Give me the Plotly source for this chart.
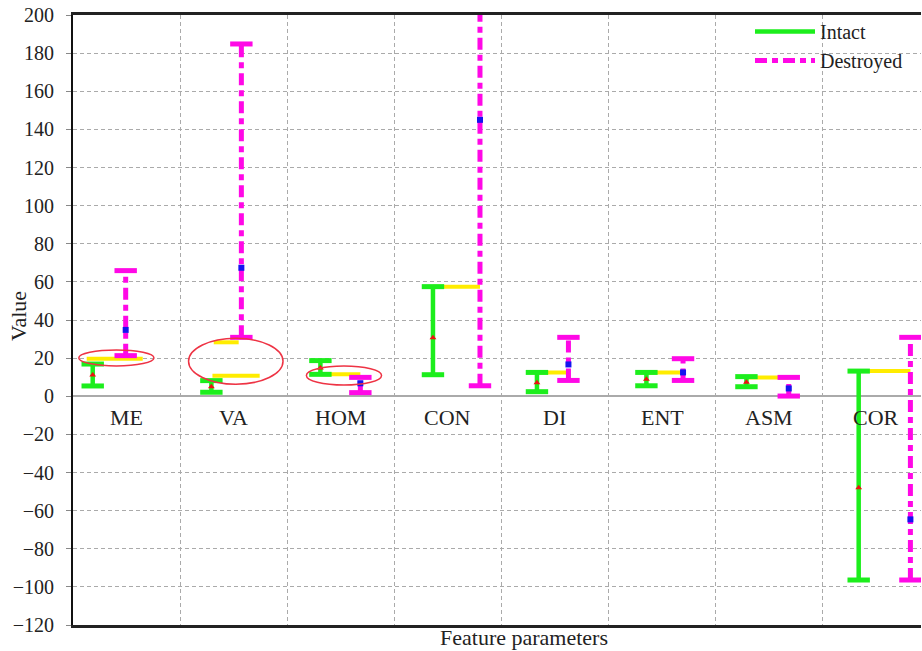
import plotly.graph_objects as go

# Texture feature parameters: ranges (min / max) and means for intact and destroyed samples
categories = ["ME", "VA", "HOM", "CON", "DI", "ENT", "ASM", "COR"]
intact_min = [5.4, 2.1, 11.5, 11.3, 2.4, 5.5, 5.0, -96.4]
intact_max = [16.9, 8.2, 18.7, 57.5, 12.5, 12.5, 10.3, 13.2]
intact_mean = [11.2, 5.0, 14.8, 30.7, 7.1, 8.9, 7.3, -48.0]
destroyed_min = [21.3, 30.9, 1.9, 5.5, 8.3, 8.3, 0.1, -96.4]
destroyed_max = [65.9, 184.8, 9.9, 290.0, 30.9, 19.7, 9.9, 30.9]
destroyed_mean = [34.8, 67.4, 6.8, 145.0, 16.7, 12.5, 4.1, -64.6]
link_value = [19.7, 10.8, 11.5, 57.5, 12.5, 12.5, 9.9, 13.2]
extra_link = {"VA": 28.3}
y_ticks = list(range(-120, 201, 20))

# horizontal placement of the two bars inside each category slot
intact_off = [-0.316, -0.208, -0.190, -0.139, -0.168, -0.146, -0.212, -0.164]
destroyed_off = [-0.008, 0.072, 0.183, 0.300, 0.126, 0.196, 0.183, 0.319]
link_span = {"ME": (-0.372, 0.151), "VA": (-0.198, 0.243)}
extra_span = {"VA": (-0.186, 0.047)}
# highlighted groups: (category, x centre, x half-width, y centre, y half-height)
ellipses = [("ME", -0.095, 0.351, 20.1, 4.2),
            ("VA", 1.020, 0.441, 18.35, 12.05),
            ("HOM", 2.030, 0.351, 10.9, 5.0)]

GREEN = "#1cee1c"
MAGENTA = "#ff08e6"
YELLOW = "#ffec00"
FONT = "Liberation Serif"


def segments(xs, lo, hi):
    x, y = [], []
    for xi, a, b in zip(xs, lo, hi):
        x += [xi, xi, None]
        y += [a, b, None]
    return x, y


xi = [i + o for i, o in enumerate(intact_off)]
xd = [i + o for i, o in enumerate(destroyed_off)]

fig = go.Figure()

# yellow links between the two groups
lx, ly = [], []
for i, c in enumerate(categories):
    a, b = link_span.get(c, (intact_off[i], destroyed_off[i]))
    lx += [i + a, i + b, None]
    ly += [link_value[i], link_value[i], None]
    if c in extra_link:
        a, b = extra_span[c]
        lx += [i + a, i + b, None]
        ly += [extra_link[c], extra_link[c], None]
fig.add_trace(go.Scatter(x=lx, y=ly, mode="lines", line=dict(color=YELLOW, width=4),
                         showlegend=False, hoverinfo="skip"))

# intact ranges
sx, sy = segments(xi, intact_min, intact_max)
fig.add_trace(go.Scatter(x=sx, y=sy, mode="lines", name="Intact",
                         line=dict(color=GREEN, width=4.5)))
fig.add_trace(go.Scatter(x=xi + xi, y=intact_min + intact_max, mode="markers",
                         marker=dict(symbol="line-ew", size=16,
                                     line=dict(color=GREEN, width=5)),
                         showlegend=False))
fig.add_trace(go.Scatter(x=xi, y=intact_mean, mode="markers",
                         marker=dict(symbol="triangle-up", size=6, color="#ee1111"),
                         showlegend=False))

# destroyed ranges
sx, sy = segments(xd, destroyed_min, destroyed_max)
fig.add_trace(go.Scatter(x=sx, y=sy, mode="lines", name="Destroyed",
                         line=dict(color=MAGENTA, width=5, dash="12px,5px,6px,5px")))
fig.add_trace(go.Scatter(x=xd + xd, y=destroyed_min + destroyed_max, mode="markers",
                         marker=dict(symbol="line-ew", size=16,
                                     line=dict(color=MAGENTA, width=5)),
                         showlegend=False))
fig.add_trace(go.Scatter(x=xd, y=destroyed_mean, mode="markers",
                         marker=dict(symbol="square", size=6, color="#1414f0"),
                         showlegend=False))

for c, cx, hw, cy, hh in ellipses:
    fig.add_shape(type="circle", xref="x", yref="y",
                  x0=cx - hw, x1=cx + hw, y0=cy - hh, y1=cy + hh,
                  line=dict(color="#ee3344", width=1.5))

for i, c in enumerate(categories):
    fig.add_annotation(x=i, y=0, text=c, showarrow=False, yanchor="top", yshift=-7,
                       font=dict(family=FONT, size=22, color="#222222"))

fig.add_annotation(xref="paper", yref="paper", x=(524 - 73) / 848, y=-(637 - 625) / 610,
                   text="Feature parameters", showarrow=False, yanchor="middle",
                   font=dict(family=FONT, size=22, color="#222222"))
fig.add_annotation(xref="paper", yref="paper", x=-(73 - 18) / 848, y=(625 - 316) / 610,
                   text="Value", textangle=-90, showarrow=False,
                   xanchor="center", yanchor="middle",
                   font=dict(family=FONT, size=22, color="#222222"))

fig.update_xaxes(range=[-0.5, -0.5 + 848 / 107.1], tickvals=[i + 0.5 for i in range(7)],
                 showticklabels=False, ticks="",
                 showgrid=True, gridcolor="#aaaaaa", gridwidth=1, griddash="4px,3px",
                 showline=True, linecolor="#222222", linewidth=2.5, mirror=True,
                 zeroline=False)
fig.update_yaxes(range=[-120, 200], tickvals=y_ticks, ticks="outside", ticklen=5,
                 tickcolor="#888888", ticklabelstandoff=8,
                 tickfont=dict(family=FONT, size=20, color="#222222"),
                 showgrid=True, gridcolor="#aaaaaa", gridwidth=1, griddash="4px,3px",
                 zeroline=True, zerolinecolor="#aaaaaa", zerolinewidth=1.5,
                 showline=True, linecolor="#111111", linewidth=2, mirror=False)

fig.update_layout(width=922, height=651, margin=dict(l=73, r=1, t=15, b=26),
                  plot_bgcolor="white", paper_bgcolor="white",
                  legend=dict(x=(750 - 73) / 848, y=1 + 3 / 610, xanchor="left", yanchor="top",
                              bgcolor="rgba(255,255,255,0)", itemwidth=60,
                              font=dict(family=FONT, size=20, color="#222222"),
                              tracegroupgap=0))

fig.write_html("out.html")
